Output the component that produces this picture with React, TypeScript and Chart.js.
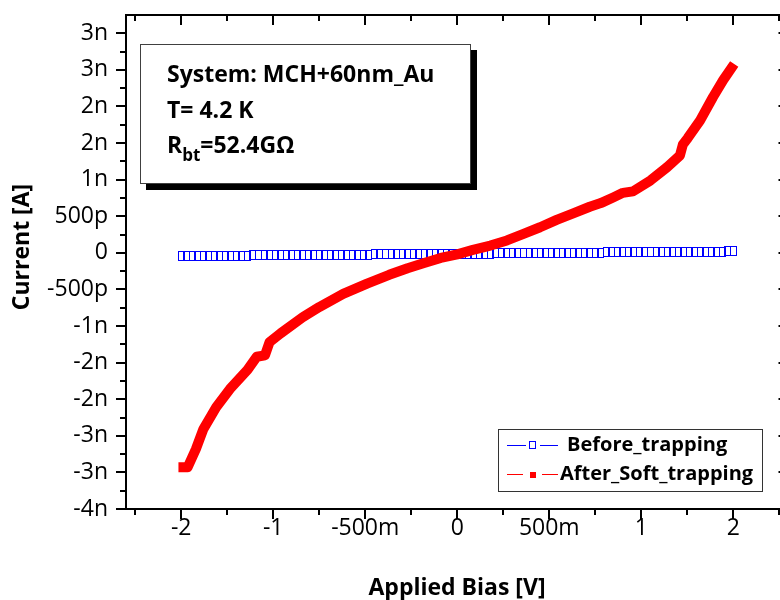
import React, { useEffect, useRef } from "react";
import { Chart, registerables } from "chart.js";

Chart.register(...registerables);

// ---- axis ticks ----
const xTickValues = [-1.5, -1, -0.5, 0, 0.5, 1, 1.5];
const xTickLabels = ["-2", "-1", "-500m", "0", "500m", "1", "2"];
const yTickValues = [-3.5, -3, -2.5, -2, -1.5, -1, -0.5, 0, 0.5, 1, 1.5, 2, 2.5, 3];
const yTickLabels = ["-4n", "-3n", "-3n", "-2n", "-2n", "-1n", "-500p", "0", "500p", "1n", "2n", "2n", "3n", "3n"];

const xAxisTitle = "Applied Bias [V]";
const yAxisTitle = "Current [A]";
const seriesNames = ["Before_trapping", "After_Soft_trapping"];

// ---- Before_trapping (V, nA) ----
const beforeV = [
  -1.5, -1.47, -1.44, -1.41, -1.38, -1.35, -1.32, -1.29, -1.26, -1.23,
  -1.2, -1.17, -1.14, -1.11, -1.08, -1.05, -1.02, -0.99, -0.96, -0.93,
  -0.9, -0.87, -0.84, -0.81, -0.78, -0.75, -0.72, -0.69, -0.66, -0.63,
  -0.6, -0.57, -0.54, -0.51, -0.48, -0.45, -0.42, -0.39, -0.36, -0.33,
  -0.3, -0.27, -0.24, -0.21, -0.18, -0.15, -0.12, -0.09, -0.06, -0.03,
  0.0, 0.03, 0.06, 0.09, 0.12, 0.15, 0.18, 0.21, 0.24, 0.27,
  0.3, 0.33, 0.36, 0.39, 0.42, 0.45, 0.48, 0.51, 0.54, 0.57,
  0.6, 0.63, 0.66, 0.69, 0.72, 0.75, 0.78, 0.81, 0.84, 0.87,
  0.9, 0.93, 0.96, 0.99, 1.02, 1.05, 1.08, 1.11, 1.14, 1.17,
  1.2, 1.23, 1.26, 1.29, 1.32, 1.35, 1.38, 1.41, 1.44, 1.47, 1.5,
];
const beforeI = [
  -0.045, -0.044, -0.043, -0.043, -0.042, -0.042, -0.041, -0.04, -0.04, -0.039,
  -0.038, -0.038, -0.037, -0.036, -0.036, -0.035, -0.034, -0.034, -0.033, -0.032,
  -0.032, -0.031, -0.031, -0.03, -0.029, -0.029, -0.028, -0.027, -0.027, -0.026,
  -0.025, -0.025, -0.024, -0.023, -0.023, -0.022, -0.022, -0.021, -0.02, -0.02,
  -0.019, -0.018, -0.018, -0.017, -0.016, -0.016, -0.015, -0.014, -0.014, -0.013,
  -0.012, -0.012, -0.011, -0.011, -0.01, -0.009, -0.009, -0.008, -0.007, -0.007,
  -0.006, -0.005, -0.005, -0.004, -0.003, -0.003, -0.002, -0.002, -0.001, 0.0,
  0.0, 0.001, 0.002, 0.002, 0.003, 0.004, 0.004, 0.005, 0.006, 0.006,
  0.007, 0.007, 0.008, 0.009, 0.009, 0.01, 0.011, 0.011, 0.012, 0.013,
  0.013, 0.014, 0.015, 0.015, 0.016, 0.017, 0.017, 0.018, 0.018, 0.019, 0.02,
];

// ---- After_Soft_trapping (V, nA) ----
const afterV = [
  -1.515, -1.465, -1.42, -1.38, -1.31, -1.235, -1.14, -1.09, -1.045, -1.02,
  -0.96, -0.84, -0.75, -0.62, -0.49, -0.37, -0.27, -0.18, -0.09, 0.0,
  0.085, 0.18, 0.27, 0.36, 0.45, 0.54, 0.63, 0.72, 0.78, 0.85,
  0.9, 0.955, 1.05, 1.14, 1.21, 1.226, 1.253, 1.32, 1.39, 1.445, 1.505,
];
const afterI = [
  -2.93, -2.93, -2.68, -2.41, -2.11, -1.86, -1.6, -1.42, -1.4, -1.22,
  -1.1, -0.88, -0.74, -0.56, -0.42, -0.3, -0.21, -0.14, -0.07, -0.02,
  0.04, 0.1, 0.17, 0.26, 0.35, 0.45, 0.54, 0.63, 0.68, 0.76,
  0.82, 0.84, 0.99, 1.17, 1.33, 1.48, 1.57, 1.81, 2.13, 2.36, 2.58,
];

const FONT = "'Open Sans', 'DejaVu Sans', sans-serif";
const BLUE = "#0000ff";
const RED = "#ff0000";

function makeRectMarker(): HTMLCanvasElement {
  const c = document.createElement("canvas");
  c.width = 7;
  c.height = 10;
  const g = c.getContext("2d")!;
  g.fillStyle = BLUE;
  g.fillRect(0, 0, 7, 1);
  g.fillRect(0, 9, 7, 1);
  g.fillRect(0, 0, 1, 10);
  g.fillRect(6, 0, 1, 10);
  return c;
}

const framePlugin = {
  id: "frame",
  beforeDatasetsDraw(chart: any) {
    chart.ctx.imageSmoothingEnabled = false;
  },
  afterDatasetsDraw(chart: any) {
    const { ctx, chartArea: a, scales } = chart;
    ctx.imageSmoothingEnabled = true;
    const xs = scales.x;
    const ys = scales.y;
    ctx.save();
    ctx.strokeStyle = "#000";
    ctx.lineWidth = 2;
    ctx.beginPath();
    ctx.rect(a.left, a.top, a.right - a.left, a.bottom - a.top);
    ctx.stroke();

    ctx.beginPath();
    for (let i = -7; i <= 7; i++) {
      const px = Math.round(xs.getPixelForValue(i * 0.25));
      const len = i % 2 === 0 ? 10 : 6;
      ctx.moveTo(px, a.bottom);
      ctx.lineTo(px, a.bottom + len);
      ctx.moveTo(px, a.top);
      ctx.lineTo(px, a.top + len);
    }
    for (let i = -14; i <= 12; i++) {
      const py = Math.round(ys.getPixelForValue(i * 0.25));
      const len = i % 2 === 0 ? 10 : 6;
      ctx.moveTo(a.left, py);
      ctx.lineTo(a.left - len, py);
      ctx.moveTo(a.right, py);
      ctx.lineTo(a.right - len, py);
    }
    ctx.stroke();
    ctx.restore();
  },
  afterDraw(chart: any) {
    const { ctx } = chart;
    ctx.save();
    ctx.fillStyle = "#000";

    // axis titles
    ctx.font = `bold 23px ${FONT}`;
    ctx.textAlign = "center";
    ctx.textBaseline = "middle";
    ctx.fillText(xAxisTitle, 457, 588);
    ctx.save();
    ctx.translate(22, 247);
    ctx.rotate(-Math.PI / 2);
    ctx.fillText(yAxisTitle, 0, 0);
    ctx.restore();

    // info box
    ctx.fillStyle = "#000";
    ctx.fillRect(146, 50, 331, 140);
    ctx.fillStyle = "#fff";
    ctx.fillRect(140, 44, 331, 140);
    ctx.strokeStyle = "#404040";
    ctx.lineWidth = 1;
    ctx.strokeRect(140.5, 44.5, 330, 139);

    ctx.fillStyle = "#000";
    ctx.textAlign = "left";
    ctx.textBaseline = "alphabetic";
    ctx.font = `bold 23px ${FONT}`;
    ctx.fillText("System: MCH+60nm_Au", 167, 82);
    ctx.fillText("T= 4.2 K", 167, 118);
    let x = 167;
    ctx.fillText("R", x, 153);
    x += ctx.measureText("R").width;
    ctx.font = `bold 17px ${FONT}`;
    ctx.fillText("bt", x, 161);
    x += ctx.measureText("bt").width;
    ctx.font = `bold 23px ${FONT}`;
    ctx.fillText("=52.4G\u03a9", x, 153);

    // legend
    ctx.fillStyle = "#fff";
    ctx.fillRect(498, 429, 265, 63);
    ctx.strokeStyle = "#333";
    ctx.lineWidth = 1;
    ctx.strokeRect(498.5, 429.5, 264, 62);

    const r1 = 445;
    const r2 = 474;
    ctx.lineWidth = 1;
    ctx.strokeStyle = BLUE;
    ctx.beginPath();
    ctx.moveTo(507, r1 + 0.5);
    ctx.lineTo(526, r1 + 0.5);
    ctx.moveTo(540, r1 + 0.5);
    ctx.lineTo(558, r1 + 0.5);
    ctx.stroke();
    ctx.strokeRect(529.5, r1 - 3.5, 6, 7);

    ctx.strokeStyle = RED;
    ctx.beginPath();
    ctx.moveTo(507, r2 + 0.5);
    ctx.lineTo(523, r2 + 0.5);
    ctx.moveTo(542, r2 + 0.5);
    ctx.lineTo(558, r2 + 0.5);
    ctx.stroke();
    ctx.fillStyle = RED;
    ctx.fillRect(530, r2 - 2, 6, 6);

    ctx.fillStyle = "#000";
    ctx.font = `bold 20px ${FONT}`;
    ctx.textBaseline = "middle";
    ctx.fillText(seriesNames[0], 567, r1);
    ctx.fillText(seriesNames[1], 560, r2);

    ctx.restore();
  },
};

export default function App() {
  const ref = useRef<HTMLCanvasElement | null>(null);

  useEffect(() => {
    if (!ref.current) return;
    const marker = makeRectMarker();
    const chart = new Chart(ref.current, {
      type: "line",
      data: {
        datasets: [
          {
            label: seriesNames[1],
            data: afterV.map((v, i) => ({ x: v, y: afterI[i] })),
            borderColor: RED,
            backgroundColor: RED,
            borderWidth: 10,
            pointRadius: 0,
            tension: 0,
            order: 0,
            borderJoinStyle: "round",
          },
          {
            label: seriesNames[0],
            data: beforeV.map((v, i) => ({ x: v, y: beforeI[i] })),
            borderColor: BLUE,
            backgroundColor: BLUE,
            borderWidth: 1,
            showLine: false,
            pointStyle: marker as any,
            pointRadius: 5,
            tension: 0,
            order: 1,
          },
        ],
      },
      options: {
        responsive: false,
        devicePixelRatio: 1,
        animation: false,
        events: [],
        layout: { padding: { top: 15, right: 11.5, left: 0, bottom: 0 } },
        plugins: {
          legend: { display: false },
          tooltip: { enabled: false },
          title: { display: false },
        },
        scales: {
          x: {
            type: "linear",
            min: -1.8,
            max: 1.8,
            afterBuildTicks: (s: any) => {
              s.ticks = xTickValues.map((v) => ({ value: v }));
            },
            afterFit: (s: any) => {
              s.height = 91;
              s.paddingLeft = 0;
              s.paddingRight = 0;
            },
            ticks: {
              autoSkip: false,
              maxRotation: 0,
              padding: 6,
              color: "#000",
              font: { family: FONT, size: 23 },
              callback: (v: any) => xTickLabels[xTickValues.indexOf(Number(v))] ?? "",
            },
            grid: { display: false, drawTicks: false },
            border: { display: false },
          },
          y: {
            type: "linear",
            min: -3.5,
            max: 3.25,
            afterBuildTicks: (s: any) => {
              s.ticks = yTickValues.map((v) => ({ value: v }));
            },
            afterFit: (s: any) => {
              s.width = 126;
              s.paddingTop = 0;
              s.paddingBottom = 0;
            },
            ticks: {
              autoSkip: false,
              padding: 18,
              color: "#000",
              font: { family: FONT, size: 23 },
              callback: (v: any) => yTickLabels[yTickValues.indexOf(Number(v))] ?? "",
            },
            grid: { display: false, drawTicks: false },
            border: { display: false },
          },
        },
      },
      plugins: [framePlugin],
    });
    return () => chart.destroy();
  }, []);

  return (
    <div
      style={{
        position: "fixed",
        left: 0,
        top: 0,
        width: 780,
        height: 600,
        overflow: "hidden",
        background: "#fff",
      }}
    >
      <canvas ref={ref} width={800} height={600} style={{ width: 800, height: 600, display: "block" }} />
    </div>
  );
}
